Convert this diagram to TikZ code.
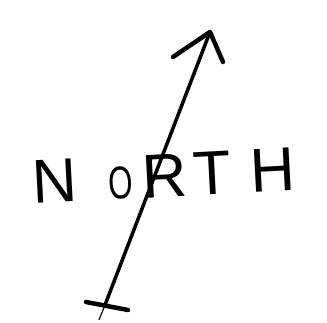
\documentclass[tikz,border=0pt]{standalone}
\usepackage{fontspec}
\setmainfont{Liberation Sans}
\begin{document}
\begin{tikzpicture}[
    x=1pt, y=-1pt,
    pen/.style={line width=4.5pt, line cap=round, line join=round},
    shaft/.style={line width=3.5pt, line cap=round},
    tail/.style={line width=1.2pt},
    lettering/.style={font=\fontsize{62}{62}\selectfont, inner sep=0pt, anchor=base},
]
    \useasboundingbox (0,0) rectangle (327,322);

    % Needle: shaft, head and foot
    \coordinate (tip) at (210,32);
    \coordinate (barbL) at (173,57);
    \coordinate (barbR) at (223,62);
    \coordinate (foot) at (105,305);
    \coordinate (footL) at (86,302);
    \coordinate (footR) at (128,310);
    \coordinate (end) at (99,320);

    \draw[shaft] (tip) -- (foot);
    \draw[pen] (barbL) -- (tip) -- (barbR);
    \draw[pen] (footL) -- (footR);
    \draw[tail] (foot) -- (end);

    % Word across the needle
    \node[lettering, rotate=3] (word) at (165,197) {N\hspace{31pt}{\fontsize{46}{46}\selectfont\scalebox{0.68}[1]{O}}\hspace{10pt}R\hspace{6pt}T\hspace{20pt}H};
\end{tikzpicture}
\end{document}
